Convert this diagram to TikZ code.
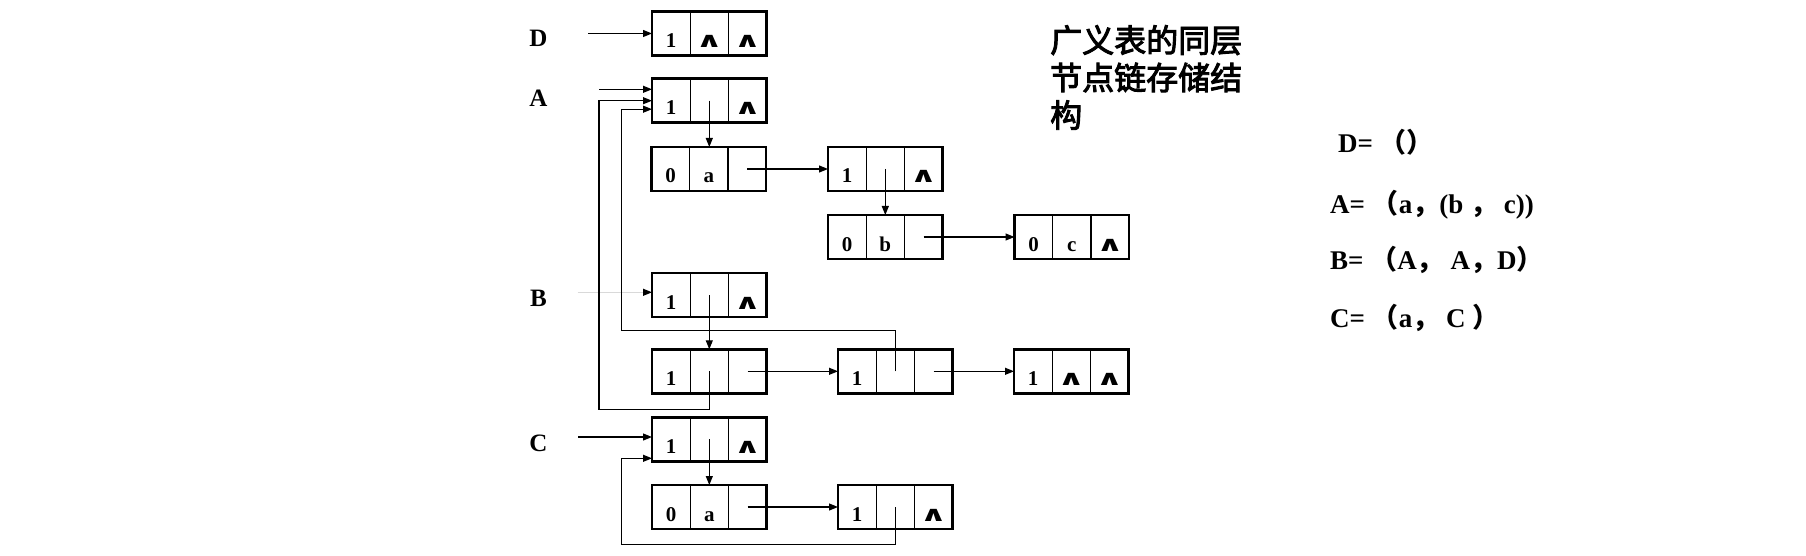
\documentclass[tikz,border=0pt]{standalone}
\usepackage{fontspec}
\usepackage{graphicx}
\setmainfont{Liberation Serif}
\newfontfamily\cjk{Noto Sans CJK SC}
\newfontfamily\cjkt{Noto Sans CJK SC}[FakeBold=3]
\newfontfamily\djv{DejaVu Sans}
\usetikzlibrary{arrows.meta,calc}
\newcommand\wdg{\scalebox{1.6}[1.0]{\djv ∧}}
\tikzset{
  cell/.style={draw, line width=1.4pt, minimum width=38.2pt, minimum height=44pt,
    inner sep=0pt, outer sep=0pt, text height=28pt, text depth=0pt,
    font=\bfseries\fontsize{21}{21}\selectfont, anchor=west},
  outerbox/.style={line width=2.5pt},
  link/.style={line width=1.1pt, -{Triangle[length=9pt,width=7pt]}},
  lbl/.style={font=\bfseries\fontsize{25}{25}\selectfont, anchor=base, inner sep=0pt},
  rt/.style={font=\bfseries\fontsize{27}{27}\selectfont, anchor=base west, inner sep=0pt},
}
\newcommand\lnode[5]{%
  \node[cell] (#1-1) at (#2) {#3};
  \node[cell] (#1-2) at (#1-1.east) {#4};
  \node[cell] (#1-3) at (#1-2.east) {#5};
  \draw[outerbox] (#1-1.north west) rectangle (#1-3.south east);
}
\begin{document}
\begin{tikzpicture}[x=1pt,y=-1pt]
\fill[white] (0,0) rectangle (1806,556);
\useasboundingbox (0,0) rectangle (1806,556);

% list nodes
\lnode{Dn}{652,33.5}{1}{\wdg}{\wdg}
\lnode{An}{652,100.7}{1}{}{\wdg}
\lnode{an}{651.5,169}{0}{a}{}
\lnode{As}{828,169}{1}{}{\wdg}
\lnode{bn}{828,237}{0}{b}{}
\lnode{cn}{1014.5,237}{0}{c}{\wdg}
\lnode{Bn}{652,295}{1}{}{\wdg}
\lnode{B1}{652,371.3}{1}{}{}
\lnode{B2}{838,371.3}{1}{}{}
\lnode{B3}{1014,371.3}{1}{\wdg}{\wdg}
\lnode{Cn}{652,439.3}{1}{}{\wdg}
\lnode{Ca}{652,507}{0}{a}{}
\lnode{C2}{838,507}{1}{}{\wdg}

% labels
\node[lbl] (LD) at (538.5,47) {D};
\node[lbl] (LA) at (538.5,107) {A};
\node[lbl] (LB) at (538.5,306.5) {B};
\node[lbl] (LC) at (538.5,451.5) {C};

% free ends
\coordinate (Ds) at (588,33.5);
\coordinate (As0) at (599,89.3);
\coordinate (Bs) at (577.6,292.3);
\coordinate (Cs) at (578.3,437);
\coordinate (L1) at (599,409.3);
\coordinate (L2) at (621.5,330.7);
\coordinate (L3) at (621.7,544.3);

% connectors
\draw[link] (Ds) -- (Ds -| Dn-1.west);
\draw[link] (As0) -- (As0 -| An-1.west);
\draw[link] (An-2.center) -- (An-2.center |- an-2.north);
\draw[link] (an-3.center) -- (As-1.west);
\draw[link] (As-2.center) -- (As-2.center |- bn-2.north);
\draw[link] (bn-3.center) -- (cn-1.west);
\draw[line width=1.1pt, draw=gray!30, -{Triangle[length=9pt,width=7pt,color=black]}] (Bs) -- (Bs -| Bn-1.west);
\draw[link] (Bn-2.center) -- (Bn-2.center |- B1-2.north);
\draw[link] (B1-3.center) -- (B2-1.west);
\draw[link] (B2-3.center) -- (B3-1.west);
\draw[link] (B1-2.center) |- (L1) |- (An-1.west);
\draw[link] (B2-2.center) |- (L2) |- ($(An-1.west)+(0,8.5)$);
\draw[link] (Cs) -- (Cs -| Cn-1.west);
\draw[link] (Cn-2.center) -- (Cn-2.center |- Ca-2.north);
\draw[link] (Ca-3.center) -- (C2-1.west);
\draw[link] (C2-2.center) |- (L3) |- ($(Cn-1.west)+(0,19)$);

% title
\node[anchor=north west, align=left, inner sep=0pt,
  font=\cjkt\fontsize{32}{37.5}\selectfont] (title) at (1050,25)
  {广义表的同层\\节点链存储结\\构};

% formulas
\node[rt] (fD) at (1338,153) {D= {\cjk （）}};
\node[rt] (fA) at (1330,213) {A= {\cjk （}a{\cjk ，}(b {\cjk ，} c))};
\node[rt] (fB) at (1330,269) {B= {\cjk （}A{\cjk ，} A{\cjk ，}D{\cjk ）}};
\node[rt] (fC) at (1330,327) {C= {\cjk （}a{\cjk ，} C {\cjk ）}};
\end{tikzpicture}
\end{document}
